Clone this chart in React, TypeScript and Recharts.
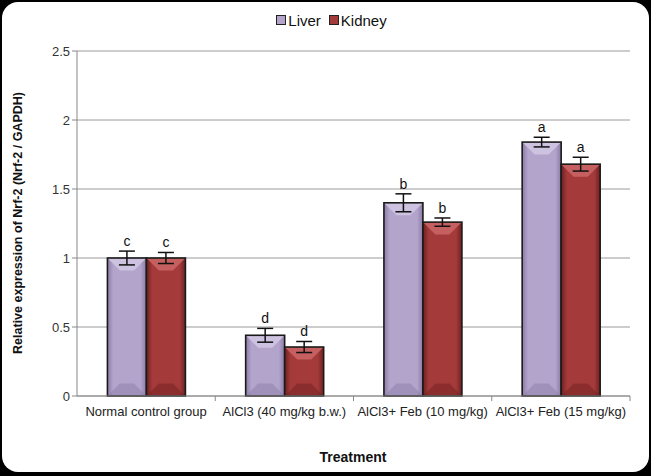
import { BarChart, Bar, XAxis, YAxis, CartesianGrid, ErrorBar, LabelList } from "recharts";

const groups = ["Normal control group", "AlCl3 (40 mg/kg b.w.)", "AlCl3+ Feb (10 mg/kg)", "AlCl3+ Feb (15 mg/kg)"];
const liver = [1.0, 0.44, 1.4, 1.84];
const liverErr = [0.05, 0.05, 0.065, 0.035];
const kidney = [1.0, 0.355, 1.26, 1.68];
const kidneyErr = [0.04, 0.04, 0.03, 0.05];
const liverLetters = ["c", "d", "b", "a"];
const kidneyLetters = ["c", "d", "b", "a"];
const yTicks = [0, 0.5, 1, 1.5, 2, 2.5];

const data = groups.map((g, i) => ({
  group: g,
  liver: liver[i],
  liverErr: liverErr[i],
  kidney: kidney[i],
  kidneyErr: kidneyErr[i],
}));

const FONT = "'Liberation Sans', Arial, sans-serif";

function bevelShape(base: string, light: string, dark: string, id: string) {
  return (props: any) => {
    const { x, y, width, height } = props;
    if (!height || height <= 0) return <g />;
    const b = Math.min(width * 0.32, height / 2, 14);
    return (
      <g>
        <defs>
          <linearGradient id={id + "h"} x1="0" x2="1" y1="0" y2="0">
            <stop offset="0" stopColor={dark} />
            <stop offset="0.15" stopColor={base} />
            <stop offset="0.85" stopColor={base} />
            <stop offset="1" stopColor={dark} />
          </linearGradient>
        </defs>
        <rect x={x} y={y} width={width} height={height} fill={`url(#${id}h)`} />
        <polygon points={`${x},${y} ${x + width},${y} ${x + width - b},${y + b} ${x + b},${y + b}`} fill={light} />
        <polygon points={`${x},${y + height} ${x + width},${y + height} ${x + width - b},${y + height - b} ${x + b},${y + height - b}`} fill={dark} opacity={0.45} />
        <rect x={x} y={y} width={width} height={height} fill="none" stroke="#1a1a1a" strokeWidth={1.6} />
      </g>
    );
  };
}

function letterLabel(letters: string[], errs: number[], values: number[]) {
  return (props: any) => {
    const { x, y, width, height, index } = props;
    const perUnit = height / values[index];
    const top = y - perUnit * errs[index];
    return (
      <text x={x + width / 2} y={top - 5} textAnchor="middle" fontFamily={FONT} fontSize={14} fill="#111">
        {letters[index]}
      </text>
    );
  };
}

function XTick(props: any) {
  const { x, y, payload, width } = props;
  const band = width / groups.length;
  return (
    <g>
      <line x1={x + band / 2} x2={x + band / 2} y1={y - 8} y2={y - 3} stroke="#888" />
      <text x={x} y={y + 12} textAnchor="middle" fontFamily={FONT} fontSize={13} fill="#222">
        {payload.value}
      </text>
    </g>
  );
}

function LegendBox() {
  const item = (c: string, t: string) => (
    <span style={{ display: "inline-flex", alignItems: "center", marginRight: 8 }}>
      <span style={{ width: 8, height: 8, background: c, border: "1.5px solid #222", marginRight: 2, display: "inline-block" }} />
      <span>{t}</span>
    </span>
  );
  return (
    <div style={{ position: "absolute", left: 0, width: 651, top: 11, textAlign: "center", fontFamily: FONT, fontSize: 15, color: "#111", paddingLeft: 10 }}>
      {item("#b3a4cc", "Liver")}
      {item("#a43a3a", "Kidney")}
    </div>
  );
}

export default function App() {
  return (
    <div style={{ position: "fixed", left: 0, top: 0, width: 651, height: 476, background: "#000" }}>
      <div style={{ position: "absolute", left: 2, top: 2, width: 647, height: 470, background: "#fff", borderRadius: 16 }} />
      <LegendBox />
      <div style={{ position: "absolute", left: 0, top: 0 }}>
        <BarChart width={651} height={476} data={data} margin={{ top: 51, right: 21, bottom: 50, left: 37 }} barGap={0} barCategoryGap="22%">
          <CartesianGrid vertical={false} stroke="#9a9a9a" />
          <XAxis dataKey="group" height={30} interval={0} axisLine={{ stroke: "#888" }} tickLine={false} tick={<XTick />} />
          <YAxis width={40} domain={[0, 2.5]} ticks={yTicks} axisLine={{ stroke: "#888" }} tickLine={{ stroke: "#888" }} tickSize={5} tick={{ fontFamily: FONT, fontSize: 13, fill: "#333" }} />
          <Bar dataKey="liver" isAnimationActive={false} shape={bevelShape("#b3a4cc", "#cdc2e0", "#8a7ba6", "lv")}>
            <ErrorBar dataKey="liverErr" width={8} stroke="#111" strokeWidth={1.5} />
            <LabelList dataKey="liver" content={letterLabel(liverLetters, liverErr, liver)} />
          </Bar>
          <Bar dataKey="kidney" isAnimationActive={false} shape={bevelShape("#a43a3a", "#c66060", "#6e2020", "kd")}>
            <ErrorBar dataKey="kidneyErr" width={8} stroke="#111" strokeWidth={1.5} />
            <LabelList dataKey="kidney" content={letterLabel(kidneyLetters, kidneyErr, kidney)} />
          </Bar>
        </BarChart>
      </div>
      <div style={{ position: "absolute", left: 18, top: 223, transform: "translate(-50%, -50%) rotate(-90deg)", whiteSpace: "nowrap", fontFamily: FONT, fontWeight: "bold", fontSize: 12.5, color: "#111" }}>
        Relative expression of Nrf-2 (Nrf-2 / GAPDH)
      </div>
      <div style={{ position: "absolute", left: 353, top: 457, transform: "translate(-50%, -50%)", whiteSpace: "nowrap", fontFamily: FONT, fontWeight: "bold", fontSize: 14, color: "#111" }}>
        Treatment
      </div>
    </div>
  );
}
